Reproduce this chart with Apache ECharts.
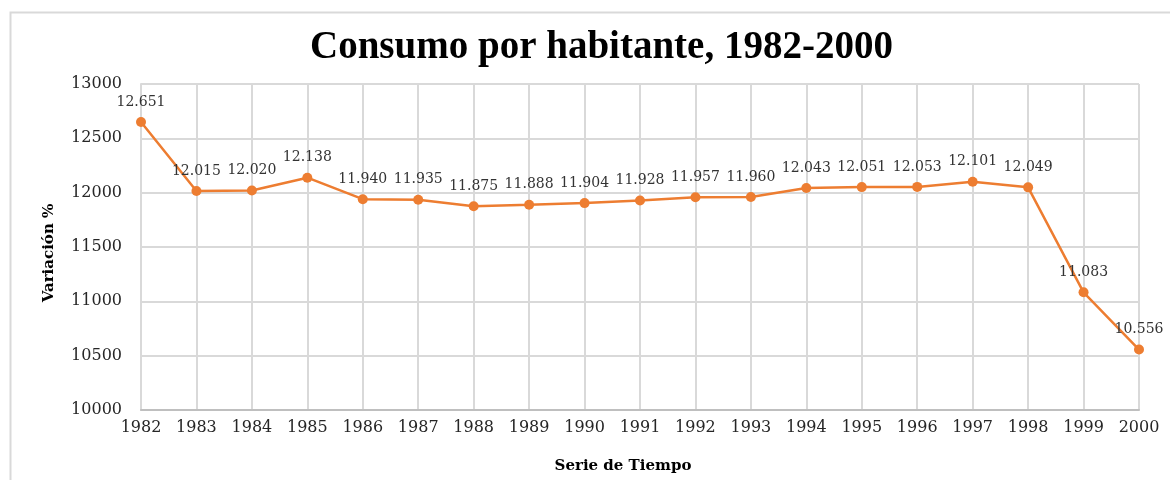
<!DOCTYPE html>
<html>
<head>
<meta charset="utf-8">
<script src="https://cdn.jsdelivr.net/npm/echarts@6/dist/echarts.min.js"></script>
<style>
  html, body { margin: 0; padding: 0; background: #fff; }
  #chart { width: 1170px; height: 480px; }
</style>
</head>
<body>
<div id="chart"></div>
<script>
const years = ["1982", "1983", "1984", "1985", "1986", "1987", "1988", "1989", "1990", "1991",
  "1992", "1993", "1994", "1995", "1996", "1997", "1998", "1999", "2000"];
const consumo = [12651, 12015, 12020, 12138, 11940, 11935, 11875, 11888, 11904, 11928,
  11957, 11960, 12043, 12051, 12053, 12101, 12049, 11083, 10556];

const serif = "'Liberation Serif', 'Times New Roman', serif";
const wide = "'DejaVu Serif', serif";

const chart = echarts.init(document.getElementById("chart"));

// thousands with a dot, like 12.651
const fmt = (v) => String(v).replace(/\B(?=(\d{3})+(?!\d))/g, ".");

chart.setOption({
  animation: false,
  graphic: [
    {
      type: "rect",
      shape: { x: 10.5, y: 12.5, width: 1200, height: 500 },
      style: { fill: "none", stroke: "#d9d9d9", lineWidth: 2 },
      silent: true,
    },
  ],
  title: {
    text: "Consumo por habitante, 1982-2000",
    left: 305,
    top: 23,
    textStyle: { fontFamily: serif, fontSize: 39, fontWeight: "bold", color: "#000" },
  },
  grid: { left: 141, right: 31, top: 84, bottom: 70, containLabel: false },
  xAxis: {
    type: "category",
    data: years,
    boundaryGap: false,
    name: "Serie de Tiempo",
    nameLocation: "middle",
    nameGap: 49,
    nameTextStyle: { fontFamily: wide, fontSize: 15, fontWeight: "bold", color: "#000", padding: [0, 34, 0, 0] },
    axisLine: { lineStyle: { color: "#bfbfbf", width: 2 } },
    axisTick: { show: false },
    axisLabel: { fontFamily: wide, fontSize: 16, color: "#262626", margin: 10, interval: 0 },
    splitLine: { show: true, lineStyle: { color: "#d9d9d9", width: 2 } },
  },
  yAxis: {
    type: "value",
    min: 10000,
    max: 13000,
    interval: 500,
    name: "Variación %",
    nameLocation: "middle",
    nameGap: 84,
    nameTextStyle: { fontFamily: wide, fontSize: 15, fontWeight: "bold", color: "#000", padding: [0, 12, 0, 0] },
    axisLine: { show: true, lineStyle: { color: "#d9d9d9", width: 2 } },
    axisTick: { show: false },
    axisLabel: { fontFamily: wide, fontSize: 16, color: "#262626", margin: 19, formatter: (v) => String(v) },
    splitLine: { lineStyle: { color: "#d9d9d9", width: 2 } },
  },
  series: [
    {
      type: "line",
      data: consumo,
      symbol: "circle",
      symbolSize: 10,
      itemStyle: { color: "#ed7d31" },
      lineStyle: { color: "#ed7d31", width: 2.5 },
      label: {
        show: true,
        position: "top",
        distance: 8,
        formatter: (p) => fmt(p.value),
        fontFamily: wide,
        fontSize: 14,
        color: "#333333",
      },
    },
  ],
});
</script>
</body>
</html>
